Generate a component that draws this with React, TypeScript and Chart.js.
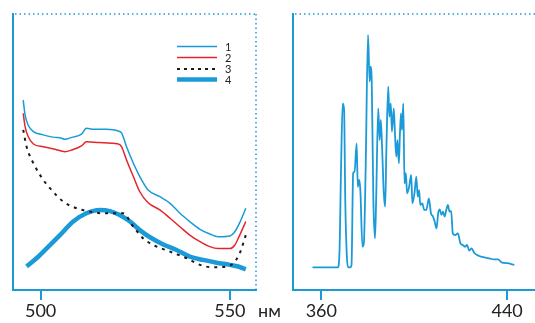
import React, { useEffect, useRef } from "react";
import { Chart, registerables } from "chart.js";
Chart.register(...registerables);

// ---------- Left panel data (nm, relative intensity 0..100) ----------
const x1 = [495.4, 495.9, 496.7, 498.1, 500.7, 503.8, 505.1, 506.4, 508.2, 510.8, 512.1, 513.9, 517.4, 520.5, 521.4, 522.7, 524.5, 526.2, 528.4, 531.5, 534.2, 536.8, 539.4, 542.1, 544.7, 546.9, 550.0, 551.3, 552.6, 554.2];
const y1 = [68.8, 63.4, 59.8, 57.4, 56.2, 55.3, 55.2, 54.6, 55.3, 56.5, 58.6, 58.2, 58.2, 57.6, 56.8, 51.9, 45.9, 41.1, 36.2, 33.8, 31.4, 27.8, 24.8, 22.0, 20.3, 19.3, 19.6, 21.1, 24.4, 29.6];
const x2 = [495.4, 495.9, 496.7, 498.1, 500.7, 503.8, 506.4, 508.2, 510.8, 512.1, 515.6, 520.5, 521.4, 522.7, 524.5, 526.2, 528.4, 531.5, 534.2, 536.8, 539.4, 542.1, 544.7, 546.9, 550.0, 551.3, 552.6, 554.2];
const y2 = [64.0, 59.2, 55.6, 52.9, 51.9, 51.0, 50.1, 50.7, 52.2, 53.7, 53.4, 52.9, 51.9, 47.1, 41.1, 35.6, 31.6, 29.0, 26.0, 22.9, 19.9, 17.5, 15.7, 15.0, 15.0, 16.3, 19.9, 24.8];
const x3 = [495.4, 496.3, 498.1, 500.7, 503.3, 506.0, 509.5, 513.0, 516.5, 521.8, 524.5, 527.1, 529.8, 534.2, 538.6, 542.1, 545.6, 549.1, 550.9, 552.6, 554.2];
const y3 = [58.0, 51.9, 45.9, 39.9, 35.6, 32.0, 29.6, 28.4, 27.8, 27.8, 22.9, 18.7, 16.3, 13.9, 11.5, 9.1, 8.2, 8.5, 9.7, 13.3, 19.9];
const x4 = [496.3, 498.9, 501.6, 505.1, 508.6, 512.1, 515.6, 518.3, 520.9, 523.6, 526.2, 528.9, 532.4, 535.9, 539.4, 542.9, 546.5, 550.0, 552.2, 554.2];
const y4 = [8.5, 11.5, 15.1, 19.9, 24.8, 27.8, 29.0, 28.6, 27.2, 24.8, 21.7, 19.1, 16.5, 14.5, 12.1, 10.9, 9.9, 9.1, 8.5, 7.5];
const leftTicks = [500, 550];
const legendLabels = ["1", "2", "3", "4"];

// ---------- Right panel data ----------
const xr = [356.2, 367.1, 367.8, 368.5, 369.2, 369.8, 370.3, 371.0, 371.6, 372.4, 373.0, 373.7, 374.3, 375.2, 375.7, 376.3, 376.8, 377.7, 378.3, 379.1, 380.1, 380.8, 381.2, 381.7, 382.4, 383.1, 383.6, 384.5, 385.1, 385.6, 386.2, 386.9, 387.5, 388.0, 388.8, 389.3, 389.9, 390.4, 391.2, 391.7, 392.3, 392.8, 393.4, 393.8, 394.3, 394.7, 395.3, 395.8, 396.4, 396.9, 397.8, 398.7, 399.2, 400.1, 400.9, 401.5, 402.1, 402.6, 403.5, 404.3, 405.2, 406.3, 407.2, 408.1, 408.8, 409.6, 410.3, 411.0, 411.7, 412.4, 413.1, 413.8, 414.5, 415.2, 415.9, 416.6, 417.6, 418.8, 419.9, 420.9, 421.9, 422.7, 423.7, 424.7, 425.8, 428.0, 430.1, 432.2, 434.3, 436.0, 437.9, 440.0, 443.1];
const yr = [8.2, 8.2, 13.3, 44.7, 67.6, 65.2, 32.6, 12.0, 8.3, 8.2, 9.1, 42.3, 42.9, 53.1, 37.4, 39.9, 36.2, 15.7, 16.9, 44.7, 92.4, 75.5, 80.9, 75.5, 32.6, 18.7, 32.6, 65.8, 54.3, 61.6, 50.7, 35.0, 30.2, 50.7, 73.7, 62.8, 67.6, 57.4, 65.8, 56.8, 48.3, 54.3, 45.9, 55.6, 64.0, 58.0, 67.6, 38.6, 42.3, 35.0, 37.4, 41.7, 31.4, 35.0, 41.1, 33.8, 36.2, 30.8, 31.4, 29.0, 29.0, 33.2, 27.8, 26.6, 24.8, 22.3, 27.8, 29.2, 27.2, 28.4, 26.6, 29.0, 30.8, 28.4, 28.7, 20.5, 19.9, 20.5, 16.9, 16.3, 15.7, 16.3, 14.3, 15.1, 13.5, 12.3, 11.8, 11.5, 11.1, 11.1, 9.9, 9.7, 9.1];
const rightTicks = [360, 440];
const unitLabel = "нм";

const BLUE = "#1b9ad8";
const RED = "#e4262c";
const BLACK = "#1a1a1a";
const TEXT = "#222222";
const FONT = "Lato, 'Open Sans', sans-serif";

const pts = (xs: number[], ys: number[]) => xs.map((x, i) => ({ x, y: ys[i] }));

function framePlugin(drawRight: boolean, extra?: (c: Chart) => void) {
  return {
    id: "frame" + (drawRight ? "R" : "N"),
    afterDraw(chart: Chart) {
      const { ctx, chartArea } = chart;
      ctx.save();
      ctx.strokeStyle = BLUE;
      ctx.lineWidth = 1.5;
      ctx.setLineDash([1.5, 3]);
      ctx.beginPath();
      ctx.moveTo(chartArea.left + 2, chartArea.top);
      ctx.lineTo(chartArea.right, chartArea.top);
      if (drawRight) {
        ctx.moveTo(chartArea.right, chartArea.top);
        ctx.lineTo(chartArea.right, chartArea.bottom);
      }
      ctx.stroke();
      ctx.restore();
      if (extra) extra(chart);
    },
  };
}

function makeOptions(min: number, max: number, ticks: number[], padLeft: number, padRight: number) {
  return {
    animation: false,
    responsive: false,
    maintainAspectRatio: false,
    layout: { padding: { left: padLeft, right: padRight, top: 14, bottom: 0 } },
    plugins: { legend: { display: false }, tooltip: { enabled: false } },
    elements: { point: { radius: 0 }, line: { cubicInterpolationMode: "monotone" } },
    scales: {
      x: {
        type: "linear",
        min,
        max,
        afterBuildTicks: (s: any) => {
          s.ticks = ticks.map((v) => ({ value: v }));
        },
        afterFit: (s: any) => {
          s.height = 33;
        },
        grid: { display: true, drawOnChartArea: false, drawTicks: true, tickLength: 10, color: BLUE, lineWidth: 2 },
        border: { display: true, color: BLUE, width: 2 },
        ticks: { color: TEXT, font: { family: FONT, size: 18 }, padding: 0, maxRotation: 0, autoSkip: false },
      },
      y: {
        min: 0,
        max: 100,
        afterFit: (s: any) => {
          s.width = 0;
        },
        grid: { display: false },
        border: { display: true, color: BLUE, width: 2 },
        ticks: { display: false },
      },
    },
  } as any;
}

export default function App() {
  const leftRef = useRef<HTMLCanvasElement>(null);
  const rightRef = useRef<HTMLCanvasElement>(null);

  useEffect(() => {
    const legendStyles = [
      { color: BLUE, width: 1.5, dash: [] as number[] },
      { color: RED, width: 1.5, dash: [] as number[] },
      { color: BLACK, width: 2, dash: [3, 4] },
      { color: BLUE, width: 4.5, dash: [] as number[] },
    ];
    const legendYs = [46.5, 57.5, 69, 79.5];
    const leftExtra = (chart: Chart) => {
      const { ctx } = chart;
      ctx.save();
      legendStyles.forEach((st, i) => {
        ctx.strokeStyle = st.color;
        ctx.lineWidth = st.width;
        ctx.setLineDash(st.dash);
        ctx.beginPath();
        ctx.moveTo(177, legendYs[i]);
        ctx.lineTo(217, legendYs[i]);
        ctx.stroke();
        ctx.setLineDash([]);
        ctx.fillStyle = TEXT;
        ctx.font = `11px ${FONT}`;
        ctx.textBaseline = "middle";
        ctx.textAlign = "left";
        ctx.fillText(legendLabels[i], 225, legendYs[i] + 0.5);
      });
      ctx.font = `18px ${FONT}`;
      ctx.textBaseline = "middle";
      ctx.fillText(unitLabel, 258, 311);
      ctx.restore();
    };

    const left = new Chart(leftRef.current!, {
      type: "line",
      data: {
        datasets: [
          { data: pts(x1, y1), borderColor: BLUE, borderWidth: 1.5 },
          { data: pts(x2, y2), borderColor: RED, borderWidth: 1.5 },
          { data: pts(x3, y3), borderColor: BLACK, borderWidth: 2, borderDash: [3, 5] },
          { data: pts(x4, y4), borderColor: BLUE, borderWidth: 4.5 },
        ],
      },
      options: makeOptions(492.7, 556.9, leftTicks, 13, 34),
      plugins: [framePlugin(true, leftExtra)],
    } as any);

    const right = new Chart(rightRef.current!, {
      type: "line",
      data: {
        datasets: [{ data: pts(xr, yr), borderColor: BLUE, borderWidth: 1.8 }],
      },
      options: makeOptions(347.8, 452, rightTicks, 3, 0),
      plugins: [framePlugin(false)],
    } as any);

    return () => {
      left.destroy();
      right.destroy();
    };
  }, []);

  return (
    <div style={{ position: "fixed", left: 0, top: 0, width: 535, height: 323, background: "#fff" }}>
      <canvas ref={leftRef} width={290} height={323} style={{ position: "absolute", left: 0, top: 0, width: 290, height: 323 }} />
      <canvas ref={rightRef} width={245} height={323} style={{ position: "absolute", left: 290, top: 0, width: 245, height: 323 }} />
    </div>
  );
}
